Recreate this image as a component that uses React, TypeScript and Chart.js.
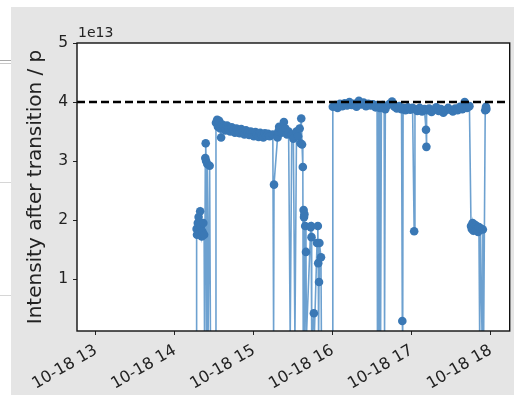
import React, { useEffect, useRef } from "react";
import { Chart, registerables } from "chart.js";

Chart.register(...registerables);

// time of day on 10-18 (hours) and intensity (units of 1e13 p)
const hours = [
  14.27, 14.275, 14.28, 14.29, 14.3, 14.32, 14.33, 14.34, 14.35, 14.36, 14.37, 14.375,
  14.385, 14.39, 14.395, 14.4, 14.41, 14.42, 14.44, 14.45, 14.51,
  14.52, 14.535, 14.545, 14.56, 14.575, 14.585, 14.6, 14.62, 14.64, 14.66, 14.68, 14.7,
  14.72, 14.74, 14.76, 14.78, 14.8, 14.82, 14.84, 14.86, 14.88, 14.9, 14.92, 14.94,
  14.96, 14.98, 15.0, 15.02, 15.04, 15.06, 15.08, 15.1, 15.12, 15.14, 15.16, 15.18,
  15.2, 15.24, 15.25, 15.255, 15.3, 15.31, 15.32, 15.33, 15.35, 15.36, 15.38, 15.4,
  15.42, 15.44, 15.46, 15.48, 15.5, 15.52, 15.54, 15.56, 15.58, 15.59, 15.6, 15.61,
  15.62, 15.625, 15.63, 15.635, 15.64, 15.645, 15.65, 15.66, 15.665, 15.72, 15.725, 15.73,
  15.735, 15.76, 15.765, 15.8, 15.81, 15.815, 15.82, 15.825, 15.83, 15.85, 15.855, 15.99,
  16.0, 16.03, 16.06, 16.09, 16.12, 16.15, 16.18, 16.21, 16.24, 16.27, 16.3, 16.33,
  16.36, 16.39, 16.42, 16.45, 16.48, 16.51, 16.54, 16.56, 16.565, 16.575, 16.585, 16.595,
  16.605, 16.615, 16.63, 16.65, 16.655, 16.665, 16.69, 16.72, 16.75, 16.78, 16.81, 16.84,
  16.87, 16.88, 16.885, 16.89, 16.92, 16.95, 16.98, 17.01, 17.03, 17.04, 17.07, 17.1,
  17.13, 17.16, 17.18, 17.185, 17.19, 17.22, 17.25, 17.28, 17.31, 17.34, 17.37, 17.4,
  17.43, 17.46, 17.49, 17.52, 17.55, 17.58, 17.61, 17.64, 17.67, 17.7, 17.73, 17.75,
  17.76, 17.77, 17.78, 17.79, 17.8, 17.81, 17.82, 17.83, 17.84, 17.85, 17.86, 17.87,
  17.89, 17.9, 17.91, 17.93, 17.94, 17.945,
];

const intensity = [
  0, 1.85, 1.75, 1.95, 2.05, 2.15, 1.9, 1.72, 1.8, 1.95, 1.75, 0,
  3.05, 3.3, 3.0, 0, 2.95, 0, 2.92, 0, 0,
  3.65, 3.7, 3.58, 3.68, 3.55, 3.4, 3.62, 3.58, 3.52, 3.6, 3.55, 3.5,
  3.57, 3.53, 3.48, 3.55, 3.52, 3.47, 3.54, 3.5, 3.45, 3.52, 3.48, 3.44,
  3.5, 3.46, 3.42, 3.49, 3.45, 3.41, 3.48, 3.44, 3.4, 3.47, 3.43, 3.46,
  3.42, 3.45, 0, 2.6, 3.4, 3.5, 3.58, 3.55, 3.48, 3.5, 3.66, 3.55,
  3.45, 3.5, 0, 3.45, 3.38, 0, 3.5, 3.42, 3.55, 3.3, 3.72, 3.28,
  2.9, 0, 2.17, 2.05, 2.1, 0, 1.9, 1.46, 0, 1.88, 1.9, 1.71,
  0, 0.42, 0, 1.61, 1.9, 1.27, 0, 0.95, 1.61, 1.37, 0, 0,
  3.92, 3.95, 3.9, 3.97, 3.93, 3.98, 3.94, 4.0, 3.95, 3.97, 3.92, 4.02,
  3.96, 3.99, 3.93, 3.97, 3.94, 3.96, 3.91, 3.95, 0, 3.93, 0, 3.9,
  0, 3.92, 3.95, 3.9, 0, 3.88, 3.94, 3.97, 4.01, 3.92, 3.89, 3.93,
  3.88, 0.29, 0, 3.9, 3.86, 3.91, 3.87, 3.9, 1.81, 3.88, 3.85, 3.9,
  3.84, 3.88, 3.53, 3.24, 3.86, 3.89, 3.83, 3.87, 3.91, 3.85, 3.88, 3.82,
  3.86, 3.9, 3.87, 3.84, 3.89, 3.86, 3.92, 3.88, 4.0, 3.9, 3.93, 1.9,
  1.85, 1.95, 1.82, 1.88, 1.92, 1.84, 1.9, 1.86, 1.8, 1.88, 0, 1.86,
  0, 1.84, 0, 3.86, 3.92, 3.88,
];

const threshold = 4; // 4e13
const xTickHours = [13, 14, 15, 16, 17, 18];
const yTicks = [1, 2, 3, 4, 5];
const xMin = 12.76;
const xMax = 18.24;
const yMin = 0.12;
const yMax = 5;
const datePrefix = "10-18";
const yTitle = "Intensity after transition / p";
const offsetText = "1e13";

const FONT = "'DejaVu Sans', sans-serif";

const decor = {
  id: "decor",
  beforeDraw(chart: any) {
    const { ctx, width, height, chartArea } = chart;
    ctx.save();
    ctx.fillStyle = "#ffffff";
    ctx.fillRect(0, 0, width, height);
    ctx.fillStyle = "#e5e5e5";
    ctx.fillRect(11, 7, width - 11, height - 7);
    ctx.fillStyle = "#a9a9a9";
    ctx.fillRect(0, 60, 11, 1);
    ctx.fillStyle = "#c8c8c8";
    ctx.fillRect(0, 63, 11, 1);
    ctx.fillStyle = "#d6d6d6";
    ctx.fillRect(0, 182, 11, 1);
    ctx.fillRect(0, 295, 11, 1);
    ctx.fillStyle = "#ffffff";
    ctx.fillRect(chartArea.left, chartArea.top, chartArea.right - chartArea.left, chartArea.bottom - chartArea.top);
    ctx.restore();
  },
  afterDraw(chart: any) {
    const { ctx, chartArea } = chart;
    ctx.save();
    ctx.strokeStyle = "#111";
    ctx.lineWidth = 1.4;
    ctx.strokeRect(chartArea.left, chartArea.top, chartArea.right - chartArea.left, chartArea.bottom - chartArea.top);
    ctx.fillStyle = "#222";
    ctx.font = `14px ${FONT}`;
    ctx.textAlign = "left";
    ctx.textBaseline = "alphabetic";
    ctx.fillText(offsetText, chartArea.left + 1, chartArea.top - 6);
    ctx.restore();
  },
};

export default function App() {
  const ref = useRef<HTMLCanvasElement | null>(null);
  useEffect(() => {
    document.body.style.margin = "0";
    const canvas = ref.current;
    if (!canvas) return;
    const points = hours.map((h, i) => ({ x: h, y: intensity[i] }));
    const chart = new Chart(canvas, {
      type: "line",
      data: {
        datasets: [
          {
            data: points,
            borderColor: "rgba(60,130,192,0.75)",
            borderWidth: 1.6,
            pointRadius: 4.3,
            pointBackgroundColor: "#3a78b5",
            pointBorderColor: "#3a78b5",
            pointBorderWidth: 0,
            tension: 0,
            order: 2,
          },
          {
            data: [
              { x: xMin, y: threshold },
              { x: xMax, y: threshold },
            ],
            borderColor: "#000",
            borderWidth: 2.4,
            borderDash: [8, 4],
            pointRadius: 0,
            order: 1,
          },
        ],
      },
      options: {
        responsive: false,
        animation: false,
        events: [],
        layout: { padding: { top: 43, right: 2, left: 11, bottom: 0 } },
        plugins: { legend: { display: false }, tooltip: { enabled: false } },
        scales: {
          x: {
            type: "linear",
            min: xMin,
            max: xMax,
            afterBuildTicks: (s: any) => {
              s.ticks = xTickHours.map((v) => ({ value: v }));
            },
            afterFit: (s: any) => {
              s.height = 64;
            },
            ticks: {
              autoSkip: false,
              minRotation: 30,
              maxRotation: 30,
              padding: 6,
              color: "#222",
              font: { family: FONT, size: 16 },
              callback: (v: any) => `${datePrefix} ${v}`,
            },
            grid: { drawOnChartArea: false, drawTicks: true, tickLength: 4, color: "#222" },
            border: { display: false },
          },
          y: {
            type: "linear",
            min: yMin,
            max: yMax,
            afterBuildTicks: (s: any) => {
              s.ticks = yTicks.map((v) => ({ value: v }));
            },
            afterFit: (s: any) => {
              s.width = 66;
            },
            ticks: {
              padding: 5,
              color: "#222",
              font: { family: FONT, size: 15.5 },
              callback: (v: any) => `${v}`,
            },
            grid: { drawOnChartArea: false, drawTicks: true, tickLength: 4, color: "#222" },
            border: { display: false },
            title: {
              display: true,
              text: yTitle,
              color: "#222",
              font: { family: FONT, size: 20 },
              padding: { top: 13, bottom: 0 },
            },
          },
        },
      },
      plugins: [decor],
    });
    return () => chart.destroy();
  }, []);
  return <canvas ref={ref} width={514} height={395} style={{ display: "block" }} />;
}
